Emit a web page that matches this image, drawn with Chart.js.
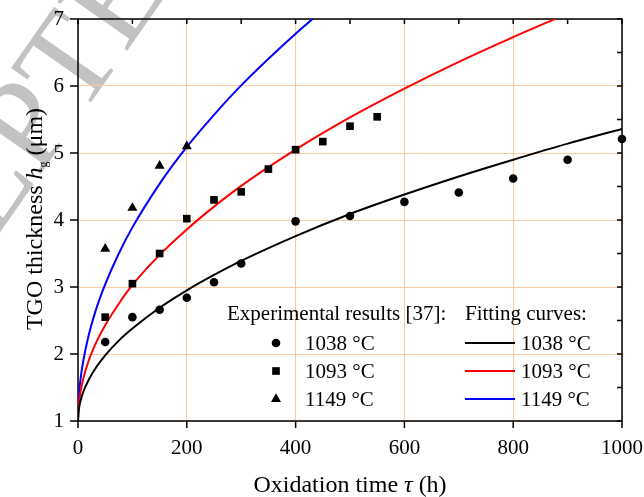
<!DOCTYPE html>
<html>
<head>
<meta charset="utf-8">
<script src="https://cdn.jsdelivr.net/npm/chart.js@4.4.1/dist/chart.umd.min.js"></script>
<style>
  html, body { margin: 0; padding: 0; background: #fff; overflow: hidden; }
  #wrap { width: 644px; height: 497px; position: relative; }
</style>
</head>
<body>
<div id="wrap"><canvas id="chart-tgo"></canvas></div>
<script>
// experimental results [37]
var time1038 = [50, 100, 150, 200, 250, 300, 400, 500, 600, 700, 800, 900, 1000];
var thick1038 = [2.18, 2.55, 2.66, 2.84, 3.07, 3.35, 3.98, 4.06, 4.27, 4.41, 4.62, 4.90, 5.21];
var time1093 = [50, 100, 150, 200, 250, 300, 350, 400, 450, 500, 550];
var thick1093 = [2.55, 3.05, 3.50, 4.02, 4.30, 4.42, 4.76, 5.05, 5.17, 5.40, 5.54];
var time1149 = [50, 100, 150, 200];
var thick1149 = [3.57, 4.18, 4.81, 5.10];

// fitting curves
var fitTime1038 = [0, 1, 2, 5, 10, 20, 35, 50, 75, 100, 150, 200, 250, 300, 400, 500, 600, 700, 800, 900, 1000];
var fit1038 = [1, 1.14, 1.20, 1.31, 1.44, 1.62, 1.82, 1.98, 2.20, 2.38, 2.69, 2.95, 3.18, 3.39, 3.76, 4.09, 4.38, 4.65, 4.90, 5.14, 5.36];
var fitTime1093 = [0, 1, 2, 5, 10, 20, 35, 50, 75, 100, 150, 200, 250, 300, 400, 500, 600, 700, 800, 900];
var fit1093 = [1, 1.20, 1.29, 1.45, 1.64, 1.91, 2.20, 2.43, 2.75, 3.03, 3.48, 3.86, 4.20, 4.51, 5.05, 5.53, 5.96, 6.36, 6.73, 7.08];
var fitTime1149 = [0, 1, 2, 5, 10, 20, 35, 50, 75, 100, 150, 200, 250, 300, 400, 450];
var fit1149 = [1, 1.29, 1.41, 1.65, 1.91, 2.29, 2.71, 3.04, 3.50, 3.89, 4.54, 5.09, 5.57, 6.01, 6.78, 7.13];

var tempLabels = ['1038 °C', '1093 °C', '1149 °C'];

function pts(xs, ys) {
	return xs.map(function(v, i) { return {x: v, y: ys[i]}; });
}

var serif = '"Liberation Serif", "Times New Roman", serif';
var gridColor = '#f8cba2';

// watermark behind everything
var watermark = {
	id: 'watermark',
	beforeDraw: function(chart) {
		var ctx = chart.ctx;
		ctx.save();
		ctx.font = '130px ' + serif;
		ctx.fillStyle = '#c2c2c2';
		ctx.translate(38, 178);
		ctx.rotate(-55 * Math.PI / 180);
		var off = ctx.measureText('ACCE').width;
		ctx.fillText('ACCEPTED MANUSCRIPT', -off, 0);
		ctx.restore();
	}
};

// box frame + tick marks
var frame = {
	id: 'frame',
	beforeDatasetsDraw: function(chart) {
		var ctx = chart.ctx, a = chart.chartArea;
		var x = chart.scales.x, y = chart.scales.y;
		ctx.save();
		ctx.strokeStyle = '#000';
		ctx.lineWidth = 1.5;
		ctx.beginPath();
		x.ticks.forEach(function(t) {
			var px = x.getPixelForValue(t.value);
			ctx.moveTo(px, a.bottom); ctx.lineTo(px, a.bottom + 7);
			ctx.moveTo(px, a.top); ctx.lineTo(px, a.top + 5);
			var mid = x.getPixelForValue(t.value + 100);
			if (t.value < x.max) { ctx.moveTo(mid, a.top); ctx.lineTo(mid, a.top + 5); }
		});
		y.ticks.forEach(function(t) {
			var py = y.getPixelForValue(t.value);
			ctx.moveTo(a.left - 8, py); ctx.lineTo(a.left, py);
			ctx.moveTo(a.right - 5, py); ctx.lineTo(a.right, py);
			var mid = y.getPixelForValue(t.value + 0.5);
			if (t.value < y.max) { ctx.moveTo(a.right - 5, mid); ctx.lineTo(a.right, mid); }
		});
		ctx.stroke();
		ctx.strokeRect(a.left, a.top, a.right - a.left, a.bottom - a.top);
		ctx.restore();
	}
};

function drawParts(ctx, parts, x, y) {
	var total = 0;
	parts.forEach(function(p) { ctx.font = p.font; p.w = ctx.measureText(p.text).width; total += p.w; });
	var cx = x - total / 2;
	parts.forEach(function(p) {
		ctx.font = p.font;
		ctx.fillText(p.text, cx, y + (p.dy || 0));
		cx += p.w;
	});
}

// axis titles and two-column legend
var annotations = {
	id: 'annotations',
	afterDraw: function(chart) {
		var ctx = chart.ctx, a = chart.chartArea;
		var ds = chart.data.datasets;
		ctx.save();
		ctx.fillStyle = '#000';
		ctx.textBaseline = 'alphabetic';
		ctx.textAlign = 'left';

		drawParts(ctx, [
			{text: 'Oxidation time ', font: '24px ' + serif},
			{text: 'τ', font: 'italic 24px ' + serif},
			{text: ' (h)', font: '24px ' + serif}
		], (a.left + a.right) / 2, 492);

		ctx.save();
		ctx.translate(42, 219);
		ctx.rotate(-Math.PI / 2);
		drawParts(ctx, [
			{text: 'TGO thickness ', font: '24px ' + serif},
			{text: 'h', font: 'italic 24px ' + serif},
			{text: 'g', font: '12px ' + serif, dy: 5},
			{text: ' (μm)', font: '24px ' + serif}
		], 0, 0);
		ctx.restore();

		// legend
		ctx.font = '21px ' + serif;
		ctx.textBaseline = 'middle';
		ctx.fillText('Experimental results [37]:', 227, 314);
		ctx.fillText('Fitting curves:', 465, 314);
		var rows = [343, 371, 399];
		for (var i = 0; i < 3; i++) {
			var sc = ds[i], ln = ds[i + 3];
			var mx = 276, my = rows[i];
			ctx.fillStyle = sc.backgroundColor;
			ctx.beginPath();
			if (sc.pointStyle === 'circle') {
				ctx.arc(mx, my, sc.pointRadius, 0, Math.PI * 2);
			} else if (sc.pointStyle === 'rect') {
				var s = sc.pointRadius * Math.SQRT1_2;
				ctx.rect(mx - s, my - s, 2 * s, 2 * s);
			} else {
				var r = sc.pointRadius;
				ctx.moveTo(mx, my - r);
				ctx.lineTo(mx + r * 0.866, my + r * 0.5);
				ctx.lineTo(mx - r * 0.866, my + r * 0.5);
				ctx.closePath();
			}
			ctx.fill();
			ctx.fillStyle = '#000';
			ctx.fillText(tempLabels[i], 305, my + 1);

			ctx.strokeStyle = ln.borderColor;
			ctx.lineWidth = ln.borderWidth;
			ctx.beginPath();
			ctx.moveTo(465, my); ctx.lineTo(515, my);
			ctx.stroke();
			ctx.fillText(tempLabels[i], 521, my + 1);
		}
		ctx.restore();
	}
};

var markers = ['circle', 'rect', 'triangle'];
var radii = [4.3, 5.4, 5.8];
var expSets = [pts(time1038, thick1038), pts(time1093, thick1093), pts(time1149, thick1149)];
var fitSets = [pts(fitTime1038, fit1038), pts(fitTime1093, fit1093), pts(fitTime1149, fit1149)];
var fitColors = ['#000000', '#ff0000', '#0000ff'];

var datasets = [];
expSets.forEach(function(d, i) {
	datasets.push({
		label: 'Exp ' + tempLabels[i],
		data: d,
		showLine: false,
		pointStyle: markers[i],
		pointRadius: radii[i],
		pointBorderWidth: 0,
		backgroundColor: '#000',
		borderColor: '#000',
		clip: false,
		order: 0
	});
});
fitSets.forEach(function(d, i) {
	datasets.push({
		label: 'Fit ' + tempLabels[i],
		data: d,
		showLine: true,
		borderColor: fitColors[i],
		borderWidth: 2,
		pointRadius: 0,
		cubicInterpolationMode: 'monotone',
		fill: false,
		order: 1
	});
});

var tickFont = {family: serif, size: 21};

var ctx = document.getElementById('chart-tgo').getContext('2d');
var chartTgo = new Chart(ctx, {
	type: 'scatter',
	data: {datasets: datasets},
	options: {
		responsive: true,
		maintainAspectRatio: false,
		animation: false,
		layout: {padding: {left: 0, right: 22, top: 19, bottom: 0}},
		plugins: {
			legend: {display: false},
			tooltip: {enabled: false}
		},
		scales: {
			x: {
				type: 'linear',
				min: 0,
				max: 1000,
				ticks: {stepSize: 200, padding: 15, color: '#000', font: tickFont, callback: function(v) { return String(v); }},
				grid: {color: gridColor, lineWidth: 1, drawTicks: false},
				border: {display: false},
				afterFit: function(s) { s.height = 76; s.paddingLeft = 0; s.paddingRight = 0; }
			},
			y: {
				type: 'linear',
				min: 1,
				max: 7,
				ticks: {stepSize: 1, padding: 14, color: '#000', font: tickFont, callback: function(v) { return String(v); }},
				grid: {color: gridColor, lineWidth: 1, drawTicks: false},
				border: {display: false},
				afterFit: function(s) { s.width = 78; s.paddingTop = 0; s.paddingBottom = 0; }
			}
		}
	},
	plugins: [watermark, frame, annotations]
});
</script>
</body>
</html>
